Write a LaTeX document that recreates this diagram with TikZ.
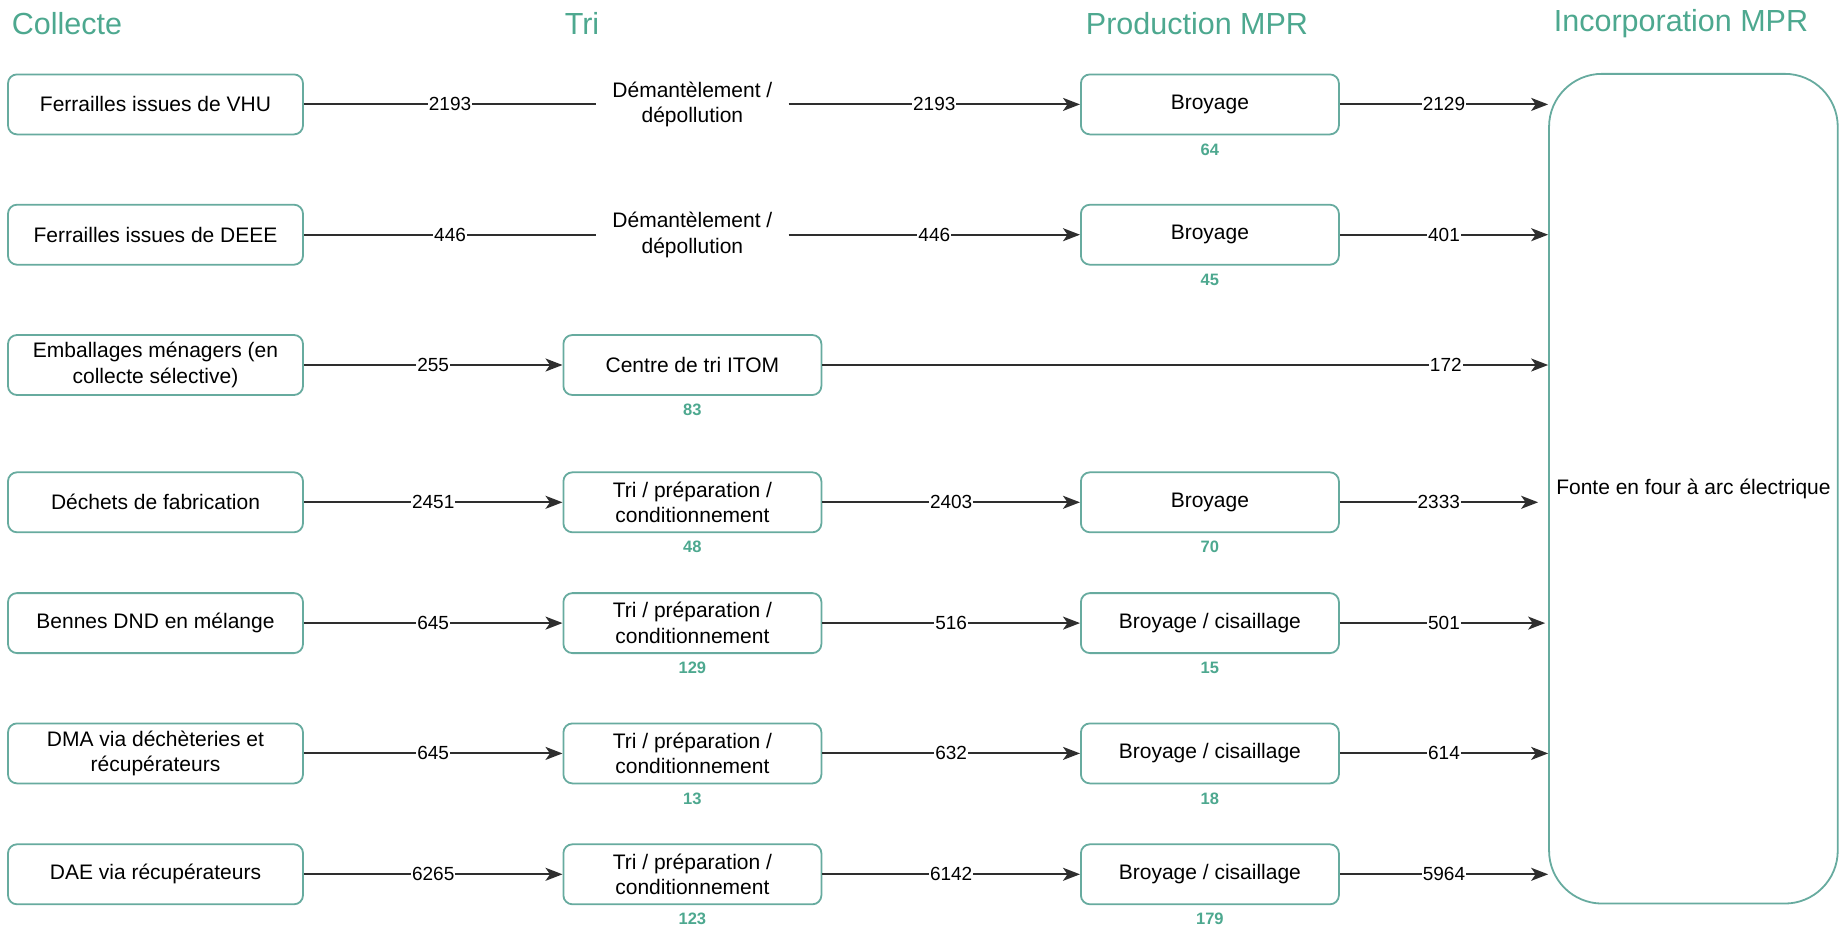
\documentclass[tikz,border=0pt]{standalone}
\usepackage{fontspec}
\setmainfont{Liberation Sans}
\usetikzlibrary{arrows.meta}
\definecolor{tealline}{HTML}{67AB9F}
\definecolor{tealtext}{HTML}{4DA88F}
\begin{document}
\begin{tikzpicture}[x=1pt,y=-1pt,
  stage/.style={draw=tealline, line width=1.8pt, rounded corners=9pt, minimum height=60pt,
    align=center, font=\fontsize{21}{25.5}\selectfont, inner sep=4pt, fill=white},
  src/.style={stage, minimum width=295pt},
  proc/.style={stage, minimum width=258pt},
  plain/.style={minimum width=192pt, minimum height=60pt, align=center,
    font=\fontsize{21}{25.5}\selectfont, inner sep=0pt},
  flow/.style={draw=black!82, line width=2pt},
  arr/.style={flow, -{Stealth[length=17pt,width=13pt,inset=4.5pt]}},
  qty/.style={fill=white, inner sep=1pt, font=\fontsize{19}{22}\selectfont},
  loss/.style={text=tealtext, font=\bfseries\fontsize{16.5}{19}\selectfont, inner sep=0pt},
  head/.style={text=tealtext, font=\fontsize{30.5}{36}\selectfont, inner sep=0pt}]

\useasboundingbox (0,0) rectangle (1840,929);

% column headings
\node[head, anchor=west] (hcol) at (11.7,23.5) {Collecte};
\node[head] (htri) at (582,23.5) {Tri};
\node[head] (hprod) at (1197,23.5) {Production MPR};
\node[head] (hinc) at (1681,23.5) {Incorporation MPR};

% melting furnace
\node[draw=tealline, line width=1.8pt, rounded corners=53pt, minimum width=288.7pt,
  minimum height=829.7pt, font=\fontsize{21}{25.5}\selectfont] (fonte) at (1693.4,488.7)
  {Fonte en four à arc électrique};

% collection sources
\node[src] (s1) at (155.5,104.4) {Ferrailles issues de VHU};
\node[src] (s2) at (155.5,234.7) {Ferrailles issues de DEEE};
\node[src] (s3) at (155.5,365.0) {Emballages ménagers (en\\collecte sélective)};
\node[src] (s4) at (155.5,502.3) {Déchets de fabrication};
\node[src] (s5) at (155.5,623.1) {Bennes DND en mélange};
\node[src] (s6) at (155.5,753.4) {DMA via déchèteries et\\récupérateurs};
\node[src] (s7) at (155.5,874.3) {DAE via récupérateurs};

% sorting
\node[plain] (d1) at (692.4,104.4) {Démantèlement /\\dépollution};
\node[plain] (d2) at (692.4,234.7) {Démantèlement /\\dépollution};
\node[proc] (t3) at (692.4,365.0) {Centre de tri ITOM};
\node[proc] (t4) at (692.4,502.3) {Tri / préparation /\\conditionnement};
\node[proc] (t5) at (692.4,623.1) {Tri / préparation /\\conditionnement};
\node[proc] (t6) at (692.4,753.4) {Tri / préparation /\\conditionnement};
\node[proc] (t7) at (692.4,874.3) {Tri / préparation /\\conditionnement};

% shredding
\node[proc] (b1) at (1209.9,104.4) {Broyage};
\node[proc] (b2) at (1209.9,234.7) {Broyage};
\node[proc] (b4) at (1209.9,502.3) {Broyage};
\node[proc] (b5) at (1209.9,623.1) {Broyage / cisaillage};
\node[proc] (b6) at (1209.9,753.4) {Broyage / cisaillage};
\node[proc] (b7) at (1209.9,874.3) {Broyage / cisaillage};

% losses
\node[loss] (l1) at (1209.9,149.4) {64};
\node[loss] (l2) at (1209.9,279.7) {45};
\node[loss] (l3) at (692.4,410.0) {83};
\node[loss] (l4a) at (692.4,547.3) {48};
\node[loss] (l4b) at (1209.9,547.3) {70};
\node[loss] (l5a) at (692.4,668.1) {129};
\node[loss] (l5b) at (1209.9,668.1) {15};
\node[loss] (l6a) at (692.4,798.4) {13};
\node[loss] (l6b) at (1209.9,798.4) {18};
\node[loss] (l7a) at (692.4,919.3) {123};
\node[loss] (l7b) at (1209.9,919.3) {179};

% flows
\draw[flow] (s1) -- node[qty]{2193} (d1);
\draw[arr] (d1) -- node[qty]{2193} (b1);
\draw[arr] (b1) -- node[qty]{2129} (b1 -| fonte.west);

\draw[flow] (s2) -- node[qty]{446} (d2);
\draw[arr] (d2) -- node[qty]{446} (b2);
\draw[arr] (b2) -- node[qty]{401} (b2 -| fonte.west);

\draw[arr] (s3) -- node[qty]{255} (t3);
\draw[arr] (t3) -- node[qty, pos=0.859]{172} (t3 -| fonte.west);

\draw[arr] (s4) -- node[qty]{2451} (t4);
\draw[arr] (t4) -- node[qty]{2403} (b4);
\draw[arr, shorten >=10pt] (b4) -- node[qty, pos=0.475]{2333} (b4 -| fonte.west);

\draw[arr] (s5) -- node[qty]{645} (t5);
\draw[arr] (t5) -- node[qty]{516} (b5);
\draw[arr, shorten >=3pt] (b5) -- node[qty]{501} (b5 -| fonte.west);

\draw[arr] (s6) -- node[qty]{645} (t6);
\draw[arr] (t6) -- node[qty]{632} (b6);
\draw[arr] (b6) -- node[qty]{614} (b6 -| fonte.west);

\draw[arr] (s7) -- node[qty]{6265} (t7);
\draw[arr] (t7) -- node[qty]{6142} (b7);
\draw[arr] (b7) -- node[qty]{5964} (b7 -| fonte.west);
\end{tikzpicture}
\end{document}
